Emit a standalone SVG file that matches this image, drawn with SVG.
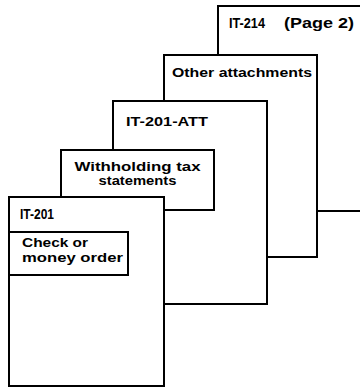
<svg xmlns="http://www.w3.org/2000/svg" width="360" height="388" viewBox="0 0 360 388">
<style>
.sheet{fill:#fff;stroke:#000;stroke-width:2}
.lbl{font-family:"Liberation Sans",Arial,sans-serif;font-weight:bold;font-size:13px;fill:#000}
.big{font-size:14px}
</style>
<rect width="360" height="388" fill="#fff"/>
<g id="sheet-it214">
<rect class="sheet" x="218" y="6" width="160" height="205"/>
<text class="lbl big"><tspan x="229" y="28" textLength="36" lengthAdjust="spacingAndGlyphs">IT-214</tspan><tspan x="284" y="28" textLength="70" lengthAdjust="spacingAndGlyphs">(Page 2)</tspan></text>
</g>
<g id="sheet-other">
<rect class="sheet" x="164" y="55" width="153" height="202"/>
<text class="lbl" x="172" y="77" textLength="140" lengthAdjust="spacingAndGlyphs">Other attachments</text>
</g>
<g id="sheet-it201att">
<rect class="sheet" x="113" y="101" width="154" height="203"/>
<text class="lbl" x="126" y="126" textLength="82" lengthAdjust="spacingAndGlyphs">IT-201-ATT</text>
</g>
<g id="sheet-withholding">
<rect class="sheet" x="61" y="150" width="153" height="60"/>
<text class="lbl" x="137.5" y="171" text-anchor="middle" textLength="126" lengthAdjust="spacingAndGlyphs">Withholding tax</text>
<text class="lbl" x="137.5" y="185" text-anchor="middle" textLength="78" lengthAdjust="spacingAndGlyphs">statements</text>
</g>
<g id="sheet-it201">
<rect class="sheet" x="9" y="197" width="155" height="189"/>
<text class="lbl big" x="20" y="219" textLength="34" lengthAdjust="spacingAndGlyphs">IT-201</text>
</g>
<g id="check">
<rect class="sheet" x="9" y="232" width="119" height="43"/>
<text class="lbl" x="22" y="247" textLength="66" lengthAdjust="spacingAndGlyphs">Check or</text>
<text class="lbl" x="22" y="262" textLength="101" lengthAdjust="spacingAndGlyphs">money order</text>
</g>
<g id="connectors"></g>
</svg>
